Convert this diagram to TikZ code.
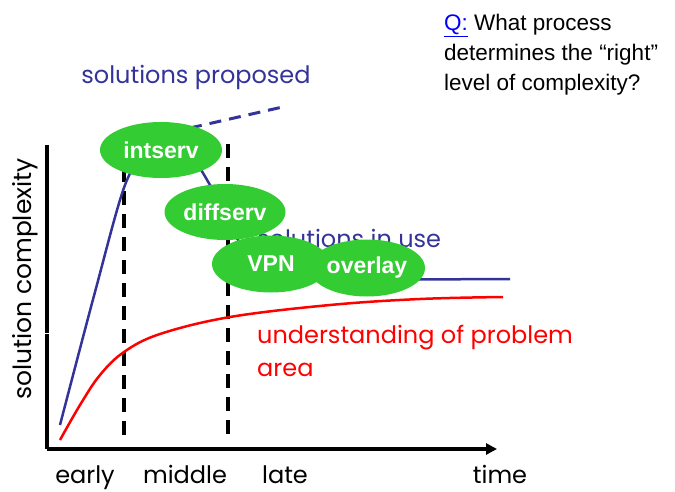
\documentclass[tikz,border=0pt]{standalone}
\usepackage{fontspec}
\setmainfont{Poppins}
\newfontfamily\arialfont{Liberation Sans}
\usetikzlibrary{arrows.meta,shapes.geometric}
\definecolor{navy}{HTML}{333399}
\definecolor{leaf}{HTML}{33CC33}
\definecolor{qblue}{HTML}{0000FF}
\begin{document}
\begin{tikzpicture}[x=1pt,y=-1pt,
  comic/.style={font=\fontsize{24}{28}\selectfont,inner sep=0pt},
  tick/.style={comic,anchor=base},
  bubble/.style={ellipse,fill=leaf,text=white,inner sep=0pt,
    font=\arialfont\bfseries\fontsize{23}{26}\selectfont},
  divider/.style={black,line width=3.5pt,dash pattern=on 14pt off 9pt},
  axis/.style={black,line width=4pt}]
\useasboundingbox (0,0) rectangle (675,492);

% question
\node[anchor=west,inner sep=0pt,align=left,font=\arialfont\fontsize{22.5}{30}\selectfont] (q) at (444,55)
  {\textcolor{qblue}{\underline{Q:}} What process\\determines the “right”\\level of complexity?};

% axes
\coordinate (o) at (47,449);
\coordinate (ytop) at (47,145);
\coordinate (xend) at (497,449);
\draw[axis] (ytop) -- (o);
\draw[axis,-{Triangle[length=11pt,width=11pt]}] (o) -- (xend);
\coordinate (gl) at (44,333);
\coordinate (gr) at (52,333);
\draw[white,line width=0.8pt] (gl) -- (gr);

% phase dividers
\coordinate (d1t) at (124,145);
\coordinate (d1b) at (124,440);
\coordinate (d2t) at (228,144);
\coordinate (d2b) at (228,440);
\draw[divider] (d1t) -- (d1b);
\draw[divider] (d2t) -- (d2b);

% axis labels
\node[comic,rotate=90,font=\fontsize{25}{28}\selectfont] (ylab) at (25,279) {solution complexity};
\node[tick] (early) at (85,483) {early};
\node[tick] (middle) at (185,483) {middle};
\node[tick] (late) at (285,483) {late};
\node[tick] (time) at (500,483) {time};

% curve labels
\node[comic,text=navy] (prop) at (196,77) {solutions proposed};
\node[comic,text=navy,anchor=west] (inuse) at (257,238) {solutions in use};
\node[comic,text=red,anchor=west,align=left,font=\fontsize{24}{33}\selectfont] (under) at (257,351)
  {understanding of problem\\area};

% understanding curve
\draw[red,line width=2.5pt] plot[smooth,tension=0.6] coordinates
  {(60,440) (80,405) (100,375) (124,352) (160,334) (230,317) (330,305) (420,299) (503,297)};

% solutions curve
\draw[navy,line width=2.5pt] plot[smooth,tension=0.5] coordinates
  {(60,425) (95,292) (125,185) (150,148) (185,150) (210,185) (235,235) (265,272) (320,279) (510,279)};
\draw[navy,line width=3pt,dash pattern=on 12pt off 8pt] (190,128) -- (287,106);

% solution bubbles
\node[bubble,minimum width=122pt,minimum height=56pt] (intserv) at (161,150) {intserv};
\node[bubble,minimum width=121pt,minimum height=56pt] (diffserv) at (225,212) {diffserv};
\node[bubble,minimum width=118pt,minimum height=57pt] (vpn) at (271,264) {VPN};
\node[bubble,minimum width=116pt,minimum height=57pt] (overlay) at (367,268) {overlay};
\end{tikzpicture}
\end{document}
